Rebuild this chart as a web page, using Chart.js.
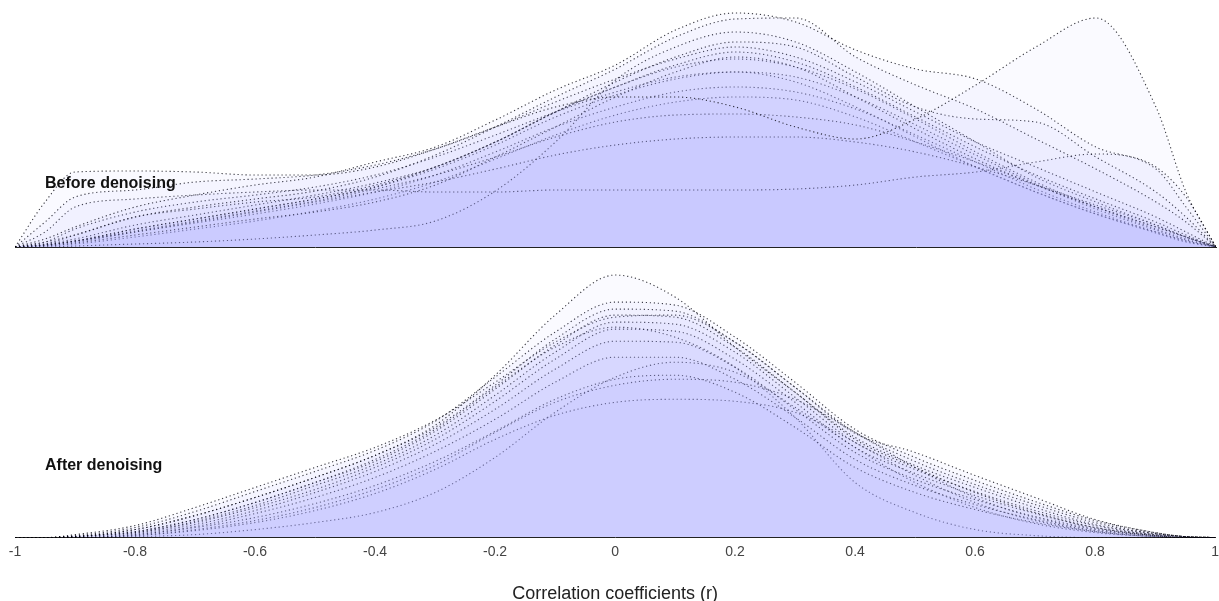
<!DOCTYPE html>
<html>
<head>
<meta charset="utf-8">
<script src="https://cdn.jsdelivr.net/npm/chart.js@4.4.1/dist/chart.umd.min.js"></script>
<style>
  html, body { margin: 0; padding: 0; background: #ffffff; }
  body { width: 1219px; height: 601px; position: relative; overflow: hidden; font-family: "Liberation Sans", Arial, Helvetica, sans-serif; }
  canvas { position: absolute; left: 0; }
  #topCanvas { top: 0; }
  #botCanvas { top: 254px; }
  .panelLabel { position: absolute; left: 45px; font-weight: bold; font-size: 16px; line-height: 16px; color: #111; white-space: nowrap; }
</style>
</head>
<body>
<canvas id="topCanvas" width="1219" height="250"></canvas>
<canvas id="botCanvas" width="1225" height="351"></canvas>
<div class="panelLabel" id="lblBefore" style="top:175px;">Before denoising</div>
<div class="panelLabel" id="lblAfter" style="top:457px;">After denoising</div>
<script>
// Correlation coefficient grid (x positions of the density estimates)
const rGrid = [-1, -0.95, -0.9, -0.8, -0.7, -0.6, -0.5, -0.4, -0.3, -0.2, -0.1, 0, 0.1, 0.2, 0.3, 0.4, 0.5, 0.6, 0.7, 0.8, 0.9, 0.95, 1];

// X-axis tick labels
const tickValues = [-1, -0.8, -0.6, -0.4, -0.2, 0, 0.2, 0.4, 0.6, 0.8, 1];
const tickLabels = ['-1', '-0.8', '-0.6', '-0.4', '-0.2', '0', '0.2', '0.4', '0.6', '0.8', '1'];

// Panel labels / axis title
const topLabel = 'Before denoising';
const bottomLabel = 'After denoising';
const xTitle = 'Correlation coefficients (r)';

// ---- Before denoising: density curves (one per subject) ----
const before1  = [0,0.45,0.75,0.76,0.75,0.72,0.72,0.80,0.98,1.20,1.40,1.50,1.50,1.40,1.20,1.08,1.28,1.62,2.00,2.29,1.40,0.55,0];
const before2  = [0,0.08,0.20,0.40,0.52,0.62,0.70,0.85,1.00,1.27,1.57,1.82,2.17,2.34,2.25,1.97,1.78,1.68,1.38,1.00,0.80,0.50,0];
const before3  = [0,0.05,0.12,0.30,0.40,0.48,0.56,0.70,0.92,1.20,1.50,1.78,2.10,2.28,2.29,1.90,1.62,1.38,1.08,0.78,0.45,0.25,0];
const before4  = [0,0.02,0.06,0.18,0.28,0.38,0.48,0.60,0.80,1.05,1.35,1.65,1.90,2.05,2.00,1.70,1.40,1.28,1.25,0.90,0.55,0.30,0];
const before5  = [0,0.25,0.50,0.57,0.65,0.68,0.72,0.82,0.98,1.20,1.45,1.68,1.88,2.00,1.90,1.65,1.35,1.05,0.80,0.55,0.30,0.15,0];
const before6  = [0,0.03,0.12,0.30,0.38,0.45,0.50,0.62,0.80,1.05,1.35,1.60,1.82,1.95,1.85,1.60,1.30,1.00,0.72,0.48,0.25,0.12,0];
const before7  = [0,0.01,0.04,0.12,0.20,0.28,0.35,0.45,0.62,0.90,1.20,1.50,1.75,1.90,1.80,1.50,1.18,0.88,0.62,0.40,0.20,0.10,0];
const before8  = [0,0.15,0.40,0.48,0.52,0.55,0.57,0.57,0.55,0.55,0.57,0.57,0.57,0.57,0.58,0.62,0.70,0.75,0.85,0.93,0.78,0.40,0];
const before9  = [0,0,0.01,0.03,0.05,0.08,0.12,0.17,0.26,0.56,1.05,1.67,2.00,2.15,2.05,1.75,1.40,1.05,0.70,0.45,0.22,0.10,0];
const before10 = [0,0.02,0.06,0.15,0.25,0.35,0.45,0.55,0.65,0.78,0.92,1.02,1.08,1.10,1.10,1.05,0.95,0.80,0.62,0.42,0.22,0.10,0];
const before11 = [0,0.02,0.06,0.16,0.26,0.36,0.46,0.58,0.72,0.90,1.10,1.25,1.32,1.33,1.30,1.22,1.05,0.85,0.62,0.40,0.20,0.10,0];
const before12 = [0,0.03,0.08,0.22,0.32,0.42,0.52,0.64,0.80,1.05,1.35,1.60,1.80,1.88,1.80,1.58,1.28,0.95,0.65,0.40,0.18,0.08,0];
const before13 = [0,0.02,0.06,0.18,0.28,0.38,0.48,0.60,0.78,1.02,1.30,1.52,1.68,1.75,1.70,1.50,1.22,0.92,0.63,0.38,0.17,0.07,0];
const before14 = [0,0.02,0.05,0.15,0.24,0.33,0.43,0.55,0.72,0.95,1.20,1.40,1.55,1.60,1.55,1.38,1.12,0.85,0.58,0.35,0.15,0.06,0];
const before15 = [0,0.01,0.03,0.10,0.18,0.26,0.36,0.48,0.65,0.88,1.12,1.32,1.45,1.50,1.47,1.30,1.05,0.80,0.55,0.33,0.14,0.05,0];
const before16 = [0,0.05,0.18,0.35,0.45,0.52,0.60,0.72,0.90,1.12,1.35,1.55,1.70,1.75,1.65,1.40,1.10,0.80,0.55,0.33,0.15,0.06,0];

// ---- After denoising: density curves (one per subject) ----
const after1  = [0,0,0.01,0.08,0.22,0.40,0.60,0.82,1.12,1.62,2.22,2.62,2.40,1.90,1.45,0.98,0.70,0.45,0.25,0.10,0.02,0,0];
const after2  = [0,0,0.02,0.10,0.26,0.46,0.66,0.87,1.16,1.60,2.05,2.35,2.32,2.00,1.55,1.08,0.80,0.57,0.36,0.17,0.05,0.01,0];
const after3  = [0,0,0.01,0.08,0.22,0.40,0.60,0.82,1.10,1.52,1.98,2.28,2.26,1.95,1.50,1.05,0.76,0.53,0.33,0.15,0.04,0.01,0];
const after4  = [0,0,0.01,0.06,0.18,0.35,0.55,0.76,1.06,1.48,1.92,2.22,2.20,1.90,1.45,1.00,0.72,0.50,0.30,0.13,0.04,0.01,0];
const after5  = [0,0,0.01,0.05,0.16,0.32,0.52,0.73,1.02,1.42,1.85,2.15,2.13,1.85,1.40,0.95,0.68,0.46,0.27,0.12,0.03,0.01,0];
const after6  = [0,0,0.01,0.05,0.15,0.30,0.48,0.70,0.98,1.36,1.78,2.08,2.06,1.78,1.35,0.90,0.64,0.42,0.24,0.10,0.03,0.01,0];
const after7  = [0,0,0,0.04,0.13,0.27,0.45,0.66,0.93,1.28,1.68,1.96,1.95,1.70,1.28,0.85,0.58,0.38,0.21,0.09,0.02,0,0];
const after8  = [0,0,0,0.03,0.11,0.24,0.40,0.60,0.86,1.18,1.55,1.80,1.80,1.58,1.20,0.78,0.52,0.33,0.18,0.07,0.02,0,0];
const after9  = [0,0,0,0.03,0.10,0.20,0.34,0.52,0.76,1.06,1.38,1.58,1.62,1.45,1.10,0.70,0.45,0.28,0.15,0.06,0.01,0,0];
const after10 = [0,0,0,0.02,0.08,0.17,0.30,0.48,0.72,1.05,1.35,1.52,1.58,1.55,1.38,1.05,0.70,0.40,0.20,0.08,0.02,0,0];
const after11 = [0,0,0,0.02,0.07,0.15,0.27,0.44,0.68,0.98,1.22,1.35,1.38,1.36,1.25,0.95,0.62,0.35,0.17,0.06,0.01,0,0];
const after12 = [0,0,0,0.01,0.03,0.08,0.15,0.25,0.45,0.80,1.25,1.60,1.75,1.65,1.30,0.90,0.55,0.30,0.14,0.05,0.01,0,0];
const after13 = [0,0,0.01,0.06,0.18,0.35,0.55,0.78,1.08,1.50,1.90,2.10,2.00,1.70,1.20,0.55,0.25,0.08,0.02,0,0,0,0];
const after14 = [0,0,0.03,0.12,0.30,0.50,0.70,0.90,1.17,1.55,1.95,2.20,2.22,1.95,1.50,1.04,0.85,0.62,0.40,0.18,0.05,0.01,0];

const beforeSeries = [before1, before2, before3, before4, before5, before6, before7, before8,
                      before9, before10, before11, before12, before13, before14, before15, before16];
const afterSeries = [after1, after2, after3, after4, after5, after6, after7,
                     after8, after9, after10, after11, after12, after13, after14];

document.getElementById('lblBefore').textContent = topLabel;
document.getElementById('lblAfter').textContent = bottomLabel;

const FILL = 'rgba(172,172,255,0.056)';
const LINE = 'rgba(0,0,10,0.78)';

function makeDataset(arr, i) {
  return {
    label: 'subject ' + (i + 1),
    data: arr.map((v, k) => ({ x: rGrid[k], y: v })),
    fill: 'origin',
    backgroundColor: FILL,
    borderColor: LINE,
    borderWidth: 1.1,
    borderDash: [1.2, 2.8],
    pointRadius: 0,
    pointHoverRadius: 0,
    tension: 0.4,
    cubicInterpolationMode: 'monotone'
  };
}

const fontFamily = '"Liberation Sans", Arial, Helvetica, sans-serif';

new Chart(document.getElementById('topCanvas'), {
  type: 'line',
  data: { datasets: beforeSeries.map(makeDataset) },
  options: {
    responsive: false,
    animation: false,
    devicePixelRatio: 1,
    layout: { padding: { left: 15, right: 3, top: 7, bottom: 3 } },
    plugins: { legend: { display: false }, tooltip: { enabled: false } },
    scales: {
      x: {
        type: 'linear', min: -1, max: 1,
        grid: { display: false, drawTicks: false },
        ticks: { display: false },
        border: { display: true, color: '#222', width: 1 }
      },
      y: { display: false, min: 0, max: 2.40 }
    }
  }
});

new Chart(document.getElementById('botCanvas'), {
  type: 'line',
  data: { datasets: afterSeries.map(makeDataset) },
  options: {
    responsive: false,
    animation: false,
    devicePixelRatio: 1,
    layout: { padding: { left: 15, right: 3, top: 3, bottom: 0 } },
    plugins: { legend: { display: false }, tooltip: { enabled: false } },
    scales: {
      x: {
        type: 'linear', min: -1, max: 1,
        afterBuildTicks: (scale) => { scale.ticks = tickValues.map(v => ({ value: v })); },
        grid: { display: false, drawTicks: false },
        ticks: {
          padding: 6,
          maxRotation: 0,
          autoSkip: false,
          color: '#444',
          font: { family: fontFamily, size: 14 },
          callback: (value) => {
            const idx = tickValues.findIndex(t => Math.abs(t - value) < 1e-9);
            return idx >= 0 ? tickLabels[idx] : '';
          }
        },
        border: { display: true, color: '#222', width: 1 },
        title: {
          display: true,
          text: xTitle,
          color: '#222',
          font: { family: fontFamily, size: 18 },
          padding: { top: 17, bottom: 0 }
        }
      },
      y: { display: false, min: 0, max: 2.80 }
    }
  }
});
</script>
</body>
</html>
